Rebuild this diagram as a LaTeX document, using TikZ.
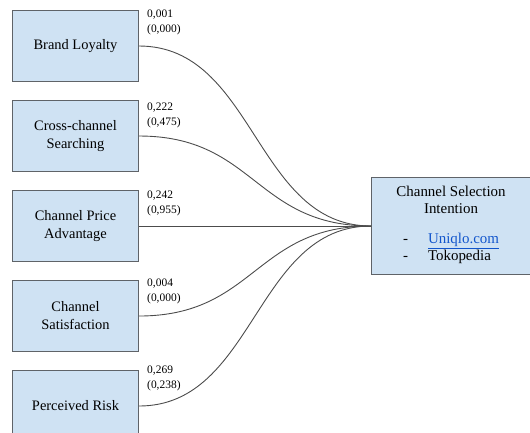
\documentclass[tikz,border=0pt]{standalone}
\usepackage{fontspec}
\setmainfont{Liberation Serif}
\usepackage{xcolor}
\usetikzlibrary{positioning}
\definecolor{boxblue}{HTML}{CFE2F3}
\definecolor{boxedge}{HTML}{5F6368}
\definecolor{linkblue}{HTML}{1155CC}

\begin{document}
\begin{tikzpicture}[
  x=1bp, y=-1bp,
  node distance=18bp and 232bp,
  box/.style={draw=boxedge, line width=1bp, fill=boxblue, minimum width=126bp,
              minimum height=71bp, inner sep=2bp, align=center,
              font=\fontsize{14.5}{18}\selectfont},
  coef/.style={anchor=north west, inner sep=0pt, align=left,
               font=\fontsize{11.5}{15}\selectfont},
  link/.style={draw=black!70, line width=0.9bp},
]
  \useasboundingbox (0,0) rectangle (530,432);
  \clip (0,0) rectangle (530,432);

  % antecedents
  \node[box, anchor=north west] (loyal) at (12,10) {Brand Loyalty};
  \node[box, below=of loyal] (cross) {Cross-channel\\Searching};
  \node[box, below=of cross] (price) {Channel Price\\Advantage};
  \node[box, below=of price] (satis) {Channel\\Satisfaction};
  \node[box, below=of satis] (risk)  {Perceived Risk};

  % outcome
  \node[box, right=of price, minimum width=159bp, minimum height=97bp,
        font=\fontsize{15}{17}\selectfont] (csi)
    {Channel Selection\\Intention\\[17bp]
     \begin{tabular}{@{}l@{\hspace{20bp}}l@{}}
       - & \textcolor{linkblue}{\underline{Uniqlo.com}}\\
       - & Tokopedia
     \end{tabular}};

  % coefficients
  \node[coef] (c1) at ([xshift=8bp]loyal.north east) {0,001\\(0,000)};
  \node[coef] (c2) at ([xshift=8bp, yshift=-3bp]cross.north east) {0,222\\(0,475)};
  \node[coef] (c3) at ([xshift=8bp, yshift=-1bp]price.north east) {0,242\\(0,955)};
  \node[coef] (c4) at ([xshift=8bp, yshift=1bp]satis.north east) {0,004\\(0,000)};
  \node[coef] (c5) at ([xshift=8bp, yshift=4bp]risk.north east) {0,269\\(0,238)};

  % paths
  \foreach \src in {loyal, cross, satis, risk}
    \draw[link] (\src.east) .. controls +(116,0) and +(-116,0) .. (csi.west);
  \draw[link] (price) -- (csi);
\end{tikzpicture}
\end{document}
